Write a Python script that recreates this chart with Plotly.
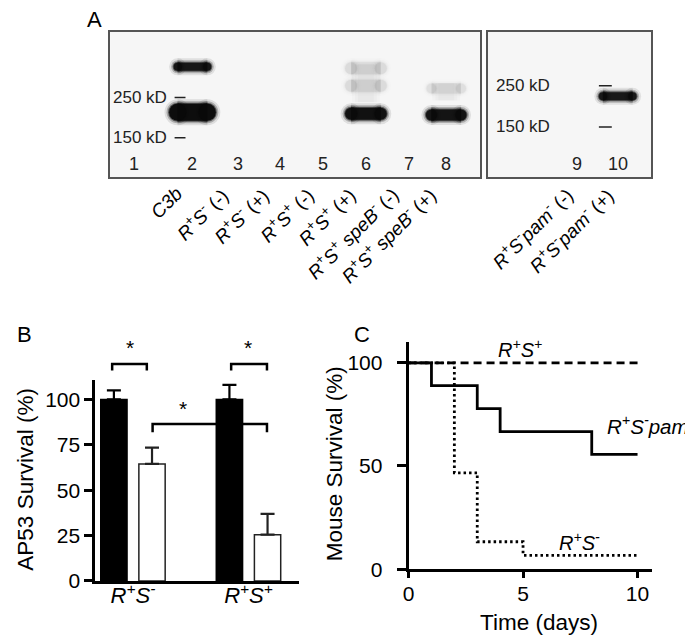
import math
import plotly.graph_objects as go

W, H = 693, 640
FONT = "Liberation Sans, Arial, sans-serif"

# ---------------- Panel B data (AP53 survival, %) ----------------
group_pos = [1, 2]
group_labels = ["<i>R<sup>+</sup>S<sup>-</sup></i>", "<i>R<sup>+</sup>S<sup>+</sup></i>"]
black_mean = [100, 100]
black_err = [5, 8]
white_mean = [64.5, 25.5]
white_err = [9, 11.5]
b_yticks = [0, 25, 50, 75, 100]

# ---------------- Panel C data (mouse survival, %) ----------------
days_spos = [0, 10]
surv_spos = [100, 100]
days_pam = [0, 1, 3, 4, 8, 10]
surv_pam = [100, 88.9, 77.8, 66.7, 55.6, 55.6]
days_sneg = [0, 2, 3, 5, 10]
surv_sneg = [100, 46.7, 13.3, 6.7, 6.7]
c_xticks = [0, 5, 10]
c_yticks = [0, 50, 100]

# ---------------- Panel A data (western blot) ----------------
lane_num_left = [1, 2, 3, 4, 5, 6, 7, 8]
lane_x_left = [121, 180, 226, 268, 312, 355, 398, 436]
lane_lab_left = ["", "<i>C3b</i>",
                 "<i>R<sup>+</sup>S<sup>-</sup></i> (-)",
                 "<i>R<sup>+</sup>S<sup>-</sup></i> (+)",
                 "<i>R<sup>+</sup>S<sup>+</sup></i> (-)",
                 "<i>R<sup>+</sup>S<sup>+</sup></i> (+)",
                 "<i>R<sup>+</sup>S<sup>+</sup> speB<sup>-</sup></i> (-)",
                 "<i>R<sup>+</sup>S<sup>+</sup> speB<sup>-</sup></i> (+)"]
lane_num_right = [9, 10]
lane_x_right = [568, 609]
lane_lab_right = ["<i>R<sup>+</sup>S<sup>-</sup>pam<sup>-</sup></i> (-)",
                  "<i>R<sup>+</sup>S<sup>-</sup>pam<sup>-</sup></i> (+)"]
marker_kd = [250, 150]
band_lane = [2, 2, 6, 8, 10, 6, 6, 8]
band_kd = [368, 207, 203, 200, 219, 362, 290, 280]
band_intensity = [0.9, 1.0, 0.95, 0.92, 0.88, 0.06, 0.06, 0.05]
smear_lane = [6, 8]
smear_kd_top = [380, 300]
smear_kd_bot = [235, 240]

band_thick = [8, 17, 12, 11, 8, 12, 12, 10]


def px(x):
    return x / W


def py(y):
    return 1 - y / H


fig = go.Figure()

# ---------------- Panel B ----------------
fig.add_trace(go.Bar(
    x=group_pos, y=black_mean, xaxis="x", yaxis="y",
    marker=dict(color="black", line=dict(color="black", width=1.5)),
    error_y=dict(type="data", array=black_err, arrayminus=[0, 0], symmetric=False,
                 color="black", thickness=2.2, width=7),
    offsetgroup="a", showlegend=False))
fig.add_trace(go.Bar(
    x=group_pos, y=white_mean, xaxis="x", yaxis="y",
    marker=dict(color="white", line=dict(color="#222", width=1.5)),
    error_y=dict(type="data", array=white_err, arrayminus=[0, 0], symmetric=False,
                 color="#222", thickness=2.2, width=7),
    offsetgroup="b", showlegend=False))

# ---------------- Panel C ----------------
fig.add_trace(go.Scatter(x=days_spos, y=surv_spos, xaxis="x2", yaxis="y2", mode="lines",
                         line=dict(color="black", width=2.8, dash="8px,5px", shape="hv"),
                         showlegend=False))
fig.add_trace(go.Scatter(x=days_pam, y=surv_pam, xaxis="x2", yaxis="y2", mode="lines",
                         line=dict(color="black", width=2.8, shape="hv"), showlegend=False))
fig.add_trace(go.Scatter(x=days_sneg, y=surv_sneg, xaxis="x2", yaxis="y2", mode="lines",
                         line=dict(color="black", width=2.8, dash="2.5px,3px", shape="hv"),
                         showlegend=False))

# ---------------- Panel A ----------------
lane_lookup = {}
for n, x in zip(lane_num_left, lane_x_left):
    lane_lookup[n] = ("x3", "y3", x)
for n, x in zip(lane_num_right, lane_x_right):
    lane_lookup[n] = ("x4", "y4", x)

# smears
for ln, kt, kb in zip(smear_lane, smear_kd_top, smear_kd_bot):
    xa, ya, x = lane_lookup[ln]
    for wd, al in [(28, 0.015), (22, 0.02), (16, 0.02)]:
        fig.add_trace(go.Scatter(x=[x, x], y=[kt, kb], xaxis=xa, yaxis=ya, mode="lines",
                                 line=dict(color="rgba(0,0,0,%.3f)" % al, width=wd),
                                 hoverinfo="skip", showlegend=False))

# bands (layered for soft edges, round ends through end markers)
for i, (ln, kd, it) in enumerate(zip(band_lane, band_kd, band_intensity)):
    xa, ya, x = lane_lookup[ln]
    t = band_thick[i]
    hw = 15
    for extra, alpha in [(9, 0.10), (5, 0.25), (2, 0.55), (0, 0.95)]:
        a = alpha * it
        col = "rgba(10,10,10,%.3f)" % a
        fig.add_trace(go.Scatter(
            x=[x - hw, x + hw], y=[kd, kd], xaxis=xa, yaxis=ya, mode="lines+markers",
            line=dict(color=col, width=t + extra),
            marker=dict(color=col, size=t + extra, line=dict(width=0)),
            hoverinfo="skip", showlegend=False))

# MW marker dashes
for kd in marker_kd:
    fig.add_trace(go.Scatter(x=[162, 173], y=[kd, kd], xaxis="x3", yaxis="y3", mode="lines",
                             line=dict(color="#222", width=1.5), showlegend=False, hoverinfo="skip"))
    fig.add_trace(go.Scatter(x=[590, 603], y=[kd, kd], xaxis="x4", yaxis="y4", mode="lines",
                             line=dict(color="#222", width=1.5), showlegend=False, hoverinfo="skip"))

ann = []
for kd in marker_kd:
    ann.append(dict(x=156, y=math.log10(kd), xref="x3", yref="y3", text="%d kD" % kd,
                    xanchor="right", yanchor="middle", showarrow=False,
                    font=dict(size=17, color="#222")))
    ann.append(dict(x=484, y=math.log10(kd), xref="x4", yref="y4", text="%d kD" % kd,
                    xanchor="left", yanchor="middle", showarrow=False,
                    font=dict(size=17, color="#222")))

for n, x in zip(lane_num_left, lane_x_left):
    ann.append(dict(x=x, y=py(159), xref="x3", yref="paper", text=str(n), showarrow=False,
                    xanchor="center", yanchor="middle", font=dict(size=18, color="#222")))
for n, x in zip(lane_num_right, lane_x_right):
    ann.append(dict(x=x, y=py(159), xref="x4", yref="paper", text=str(n), showarrow=False,
                    xanchor="center", yanchor="middle", font=dict(size=18, color="#222")))

LAB_SIZE = 19
for lab, x in zip(lane_lab_left, lane_x_left):
    if lab:
        ann.append(dict(x=x - 3, y=py(175), xref="x3", yref="paper", text=lab, showarrow=False,
                        textangle=-45, xanchor="right", yanchor="top",
                        font=dict(size=LAB_SIZE, color="black")))
for lab, x in zip(lane_lab_right, lane_x_right):
    ann.append(dict(x=x + 3, y=py(175), xref="x4", yref="paper", text=lab, showarrow=False,
                    textangle=-45, xanchor="right", yanchor="top",
                    font=dict(size=LAB_SIZE, color="black")))

# panel letters
ann.append(dict(x=px(81), y=py(12), xref="paper", yref="paper", text="A", showarrow=False,
                xanchor="center", yanchor="middle", font=dict(size=22, color="black")))
ann.append(dict(x=px(11), y=py(332), xref="paper", yref="paper", text="B", showarrow=False,
                xanchor="center", yanchor="middle", font=dict(size=22, color="black")))
ann.append(dict(x=px(351), y=py(332), xref="paper", yref="paper", text="C", showarrow=False,
                xanchor="center", yanchor="middle", font=dict(size=22, color="black")))

# axis titles (placed as annotations for precise placement)
TITLE_SIZE = 22.5
ann.append(dict(x=px(12), y=py(479), xref="paper", yref="paper", text="AP53 Survival (%)",
                textangle=-90, showarrow=False, xanchor="center", yanchor="middle",
                font=dict(size=TITLE_SIZE, color="black")))
ann.append(dict(x=px(323), y=py(464), xref="paper", yref="paper", text="Mouse Survival (%)",
                textangle=-90, showarrow=False, xanchor="center", yanchor="middle",
                font=dict(size=TITLE_SIZE, color="black")))
ann.append(dict(x=px(530), y=py(625), xref="paper", yref="paper", text="Time (days)",
                showarrow=False, xanchor="center", yanchor="middle",
                font=dict(size=TITLE_SIZE, color="black")))

# ---- Panel B significance brackets ----
B_YDOM = [py(583), py(378)]
B_YR = [0, 111]


def by(v):
    return B_YDOM[0] + (v - B_YR[0]) / (B_YR[1] - B_YR[0]) * (B_YDOM[1] - B_YDOM[0])


shapes = []
brackets = [(0.82, 1.12, 119.5, 116), (1.85, 2.16, 119.5, 116), (1.17, 2.16, 86.5, 82)]
stars = [(0.975, 128.5), (2.0, 128.5), (1.43, 95)]
for x0, x1, ytop, yend in brackets:
    shapes.append(dict(type="path", xref="x", yref="paper",
                       path="M %f,%f L %f,%f L %f,%f L %f,%f" % (x0, by(yend), x0, by(ytop), x1, by(ytop), x1, by(yend)),
                       line=dict(color="black", width=2.5)))
for sx, sy in stars:
    ann.append(dict(x=sx, y=by(sy), xref="x", yref="paper", text="*", showarrow=False,
                    xanchor="center", yanchor="middle", font=dict(size=21, color="black")))

# ---- Panel C curve labels ----
ann.append(dict(x=4.85, y=107, xref="x2", yref="y2",
                text="<i>R<sup>+</sup>S<sup>+</sup></i>", showarrow=False,
                xanchor="center", yanchor="middle", font=dict(size=20, color="black")))
ann.append(dict(x=px(596), y=py(424), xref="paper", yref="paper",
                text="<i>R<sup>+</sup>S<sup>-</sup>pam<sup>-</sup></i>", showarrow=False,
                xanchor="left", yanchor="middle", font=dict(size=20.5, color="black")))
ann.append(dict(x=7.45, y=13.5, xref="x2", yref="y2",
                text="<i>R<sup>+</sup>S<sup>-</sup></i>", showarrow=False,
                xanchor="center", yanchor="middle", font=dict(size=20, color="black")))

axis_common = dict(showgrid=False, zeroline=False, showline=True, linecolor="black",
                   linewidth=2.8, tickcolor="black", tickwidth=2.5)
tickf = dict(size=21, color="black", family=FONT)

blot_axis = dict(showgrid=False, zeroline=False, showline=True, mirror=True,
                 linecolor="#555", linewidth=1.5, showticklabels=False, ticks="")

fig.update_layout(
    width=W, height=H, margin=dict(l=0, r=0, t=0, b=0),
    paper_bgcolor="white", plot_bgcolor="white",
    font=dict(family=FONT, color="black"),
    barmode="group", bargap=0.34, bargroupgap=0.31,
    xaxis=dict(domain=[px(82), px(287)], range=[0.674, 2.433], anchor="y",
               tickvals=group_pos, ticktext=group_labels, ticks="",
               tickfont=dict(size=22, color="black", family=FONT), ticklabelstandoff=-7,
               **axis_common),
    yaxis=dict(domain=B_YDOM, range=B_YR, anchor="x", tickvals=b_yticks,
               ticks="outside", ticklen=8, tickfont=tickf, ticklabelstandoff=0,
               **axis_common),
    xaxis2=dict(domain=[px(398), px(644)], range=[0, 10.65], anchor="y2",
                tickvals=c_xticks, ticks="outside", ticklen=6, tickfont=tickf,
                ticklabelstandoff=-2,
                **axis_common),
    yaxis2=dict(domain=[py(571), py(340)], range=[0, 110], anchor="x2",
                tickvals=c_yticks, ticks="outside", ticklen=9, tickfont=tickf,
                ticklabelstandoff=10,
                **axis_common),
    xaxis3=dict(domain=[px(97), px(470)], range=[97, 470], anchor="y3", **blot_axis),
    yaxis3=dict(domain=[py(172), py(24)], type="log", range=[1.9596, 2.760], anchor="x3", **blot_axis),
    xaxis4=dict(domain=[px(478), px(643)], range=[478, 643], anchor="y4", **blot_axis),
    yaxis4=dict(domain=[py(172), py(24)], type="log", range=[1.9066, 2.6884], anchor="x4", **blot_axis),
    annotations=ann,
)
# blot backgrounds
for x0, x1 in [(97, 470), (478, 643)]:
    shapes.append(dict(type="rect", xref="paper", yref="paper", x0=px(x0), x1=px(x1), y0=py(172), y1=py(24),
                       fillcolor="#f6f6f6", line=dict(width=0), layer="below"))
fig.update_layout(shapes=shapes)

fig.write_html("out.html")
